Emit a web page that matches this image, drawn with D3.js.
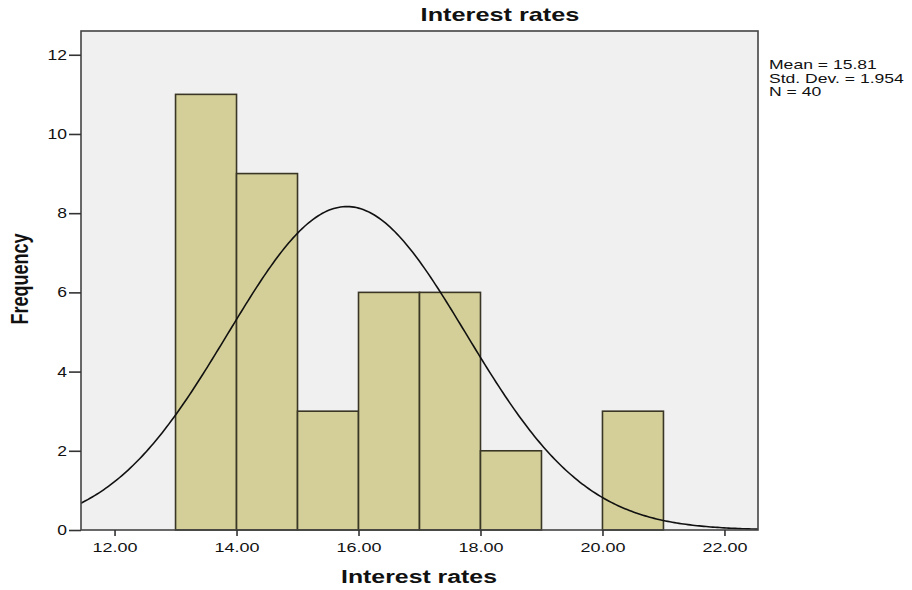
<!DOCTYPE html>
<html><head><meta charset="utf-8">
<script src="https://cdn.jsdelivr.net/npm/d3@7"></script>
<style>body{margin:0;background:#fff}svg{display:block}text{font-family:"Liberation Sans",Arial,sans-serif;fill:#111}</style>
</head><body>
<svg id="c" width="912" height="590"></svg>
<script>
// Data
const binStarts = [13, 14, 15, 16, 17, 18, 19, 20];
const binCounts = [11, 9, 3, 6, 6, 2, 0, 3];
const binWidth = 1;
const xTicks = [12, 14, 16, 18, 20, 22];
const yTicks = [0, 2, 4, 6, 8, 10, 12];
const statsMean = 15.81, statsSD = 1.954, statsN = 40;
const statLines = ["Mean = 15.81", "Std. Dev. = 1.954", "N = 40"];

const svg = d3.select("#c");
const L = 81, R = 758, T = 31, B = 530;
const x = d3.scaleLinear().domain([11.45, 22.55]).range([L, R]);
const y = d3.scaleLinear().domain([0, 12.6]).range([B, T]);

function stretch(sel, f) {
  sel.each(function() {
    const w = this.getComputedTextLength();
    this.setAttribute("textLength", w * f);
    this.setAttribute("lengthAdjust", "spacingAndGlyphs");
  });
}

svg.append("rect").attr("x", L).attr("y", T).attr("width", R - L).attr("height", B - T).attr("fill", "#f0f0f0");

svg.append("defs").append("clipPath").attr("id", "clip")
  .append("rect").attr("x", L).attr("y", T).attr("width", R - L).attr("height", B - T);

const bins = binStarts.map((s, i) => ({ s, c: binCounts[i] })).filter(d => d.c > 0);
svg.append("g").selectAll("rect").data(bins).join("rect")
  .attr("x", d => x(d.s)).attr("width", d => x(d.s + binWidth) - x(d.s))
  .attr("y", d => y(d.c)).attr("height", d => y(0) - y(d.c))
  .attr("fill", "#d4cf98").attr("stroke", "#3a3626").attr("stroke-width", 1.6);

// fitted normal curve from stated mean, sd, N
const pts = d3.range(0, 301).map(i => {
  const v = 11.45 + (22.55 - 11.45) * i / 300;
  const z = (v - statsMean) / statsSD;
  return [v, statsN * binWidth * Math.exp(-0.5 * z * z) / (statsSD * Math.sqrt(2 * Math.PI))];
});
svg.append("path").datum(pts).attr("clip-path", "url(#clip)")
  .attr("d", d3.line().x(d => x(d[0])).y(d => y(d[1])))
  .attr("fill", "none").attr("stroke", "#111").attr("stroke-width", 1.6);

svg.append("rect").attr("x", L).attr("y", T).attr("width", R - L).attr("height", B - T)
  .attr("fill", "none").attr("stroke", "#444").attr("stroke-width", 1.6);

// axes
const xa = svg.append("g").attr("transform", `translate(0,${B})`)
  .call(d3.axisBottom(x).tickValues(xTicks).tickFormat(d3.format(".2f")).tickSize(6).tickPadding(6));
xa.select(".domain").remove();
xa.selectAll("line").attr("stroke", "#333").attr("stroke-width", 1.6);
xa.selectAll("text").attr("font-size", 13.5).attr("fill", "#111").attr("font-family", '"Liberation Sans",Arial,sans-serif').call(stretch, 1.33);

const ya = svg.append("g").attr("transform", `translate(${L},0)`)
  .call(d3.axisLeft(y).tickValues(yTicks).tickFormat(d3.format("d")).tickSize(12).tickPadding(2));
ya.select(".domain").remove();
ya.selectAll("line").attr("stroke", "#333").attr("stroke-width", 1.6);
ya.selectAll("text").attr("font-size", 14).attr("fill", "#111").attr("font-family", '"Liberation Sans",Arial,sans-serif').call(stretch, 1.25);

// titles
svg.append("text").attr("x", 500).attr("y", 21).attr("text-anchor", "middle")
  .attr("font-size", 19).attr("font-weight", "bold").text("Interest rates").call(stretch, 1.33);
svg.append("text").attr("x", 419).attr("y", 583).attr("text-anchor", "middle")
  .attr("font-size", 18).attr("font-weight", "bold").text("Interest rates").call(stretch, 1.38);
svg.append("text").attr("transform", "translate(28,279) rotate(-90) scale(1,1.3)").attr("text-anchor", "middle")
  .attr("font-size", 18).attr("font-weight", "bold").text("Frequency");

svg.append("g").selectAll("text").data(statLines).join("text")
  .attr("x", 769).attr("y", (d, i) => 69 + i * 13.5)
  .attr("font-size", 13.5).text(d => d).call(stretch, 1.3);
</script>
</body></html>
